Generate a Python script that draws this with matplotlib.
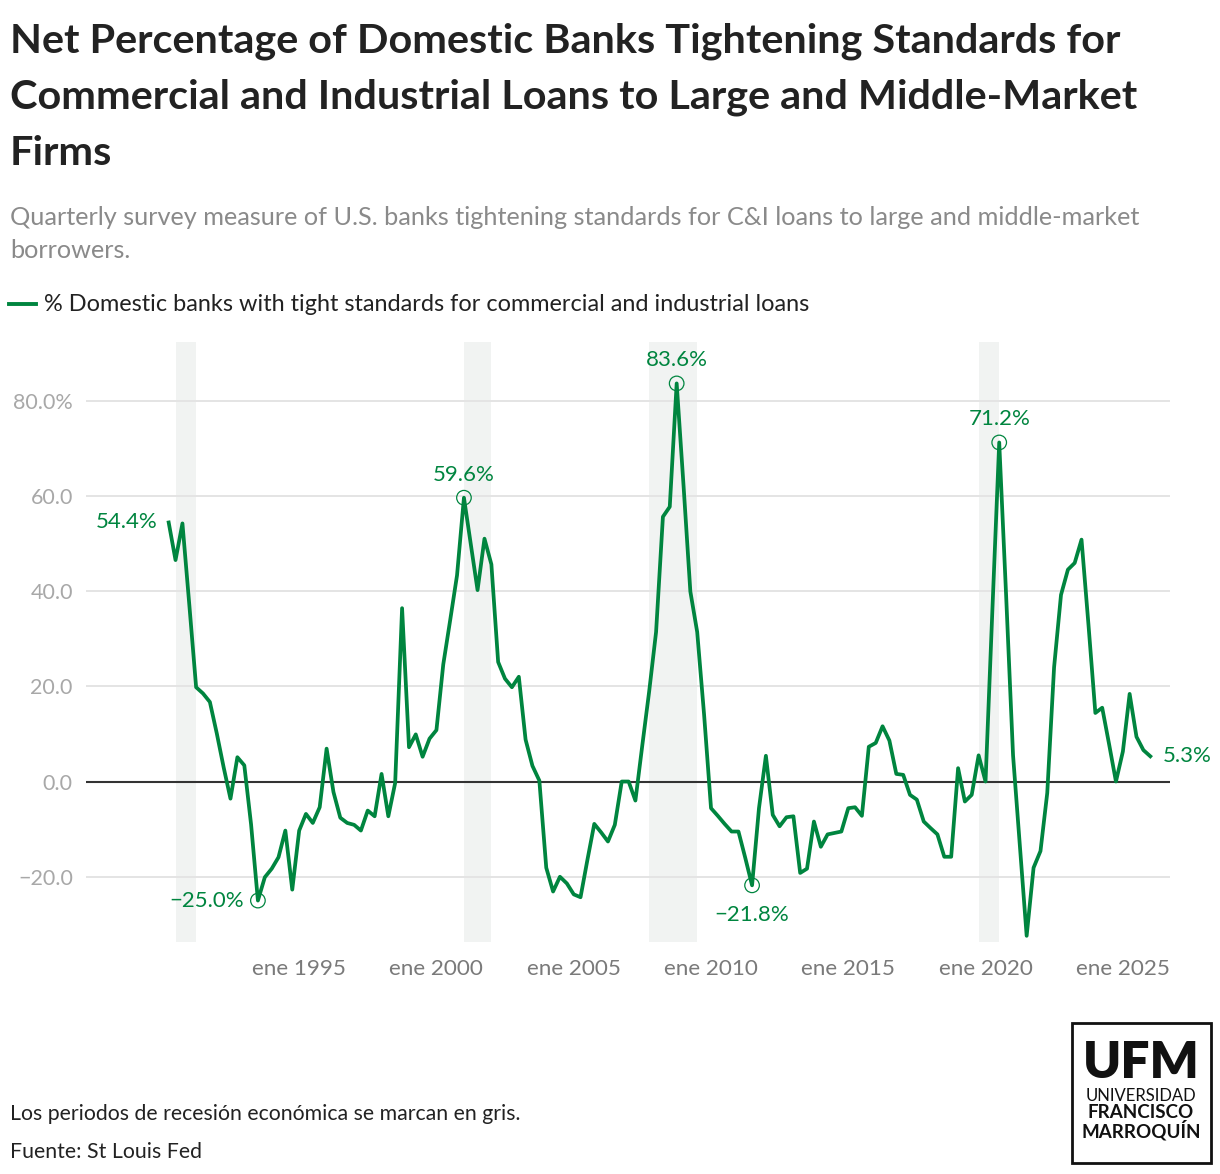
import numpy as np
import pandas as pd
import matplotlib
matplotlib.use("Agg")
import matplotlib.pyplot as plt
from matplotlib.patches import Rectangle

plt.rcParams["font.family"] = ["Lato", "DejaVu Sans"]

# quarterly survey values, 1990 Q2 onwards
start_quarter = "1990-04-01"
values = [
    54.4, 46.5, 54.2, 37.0, 19.8, 18.5, 16.7, 10.1, 3.0, -3.6,
    5.1, 3.4, -9.0, -25.0, -20.1, -18.3, -15.9, -10.3, -22.7, -10.3,
    -6.8, -8.7, -5.4, 6.9, -2.2, -7.6, -8.7, -9.1, -10.3, -6.1,
    -7.3, 1.6, -7.3, -0.3, 36.4, 7.2, 9.9, 5.2, 9.0, 10.8,
    24.6, 33.8, 43.3, 59.6, 49.9, 40.2, 51.0, 45.6, 25.1, 21.6,
    19.8, 22.0, 8.8, 3.3, 0.2, -18.1, -23.1, -20.0, -21.4, -23.7,
    -24.3, -16.5, -8.9, -10.7, -12.6, -9.1, 0.0, 0.0, -4.0, 7.5,
    18.9, 31.4, 55.6, 57.7, 83.6, 62.0, 39.9, 31.4, 14.0, -5.6,
    -7.2, -8.9, -10.5, -10.5, -16.0, -21.8, -5.6, 5.4, -7.0, -9.4,
    -7.5, -7.3, -19.2, -18.3, -8.4, -13.7, -11.1, -10.8, -10.5, -5.6,
    -5.4, -7.2, 7.3, 8.1, 11.6, 8.6, 1.6, 1.4, -2.8, -3.8,
    -8.4, -9.8, -11.1, -15.8, -15.8, 2.8, -4.2, -2.8, 5.5, 0.0,
    36.0, 71.2, 39.0, 5.5, -13.5, -32.4, -18.1, -14.6, -2.4, 24.0,
    39.2, 44.5, 45.9, 50.8, 33.0, 14.4, 15.5, 7.9, 0.0, 6.3,
    18.4, 9.4, 6.6, 5.3,
]
dates = pd.date_range(start_quarter, periods=len(values), freq="QS")

recessions = [("1990-07-01", "1991-04-01"), ("2001-01-01", "2002-01-01"),
              ("2007-10-01", "2009-07-01"), ("2019-10-01", "2020-07-01")]

# highlighted extremes (index into values)
marked = [13, 43, 74, 85, 121]

yticks = [-20, 0, 20, 40, 60, 80]
ytick_labels = ["\u221220.0", "0.0", "20.0", "40.0", "60.0", "80.0%"]
xtick_years = [1995, 2000, 2005, 2010, 2015, 2020, 2025]

GREEN = "#00853f"
DARK = "#222222"

W, H = 1220, 1174
fig = plt.figure(figsize=(W / 100, H / 100), dpi=100)


def fx(x):
    return x / W


def fy(y):
    return 1 - y / H


ax = fig.add_axes([fx(86), fy(942), (1170 - 86) / W, (942 - 342) / H])

for a, b in recessions:
    ax.axvspan(pd.Timestamp(a), pd.Timestamp(b), color="#f1f3f2", lw=0, zorder=0.1)

ax.set_axisbelow(True)
ax.yaxis.grid(True, color="#e4e4e4", lw=1.4)
ax.axhline(0, color="#333333", lw=1.5, zorder=2)

ax.plot(dates, values, color=GREEN, lw=2.7, zorder=3)

ax.scatter(dates[marked], [values[i] for i in marked], s=110, facecolors="none",
           edgecolors=GREEN, linewidths=0.9, zorder=4)


def fmt(v):
    return f"{v:.1f}%".replace("-", "\u2212")


label_style = dict(color=GREEN, fontsize=16, textcoords="offset pixels", zorder=5)
ax.annotate(fmt(values[0]), (dates[0], values[0]), xytext=(-11, 0),
            ha="right", va="center", **label_style)
ax.annotate(fmt(values[-1]), (dates[-1], values[-1]), xytext=(12, 0),
            ha="left", va="center", **label_style)
offsets = {13: (-14, 0, "right"), 43: (0, 23, "center"), 74: (0, 23, "center"),
           85: (0, -30, "center"), 121: (0, 23, "center")}
for i in marked:
    dx, dy, ha = offsets[i]
    ax.annotate(fmt(values[i]), (dates[i], values[i]), xytext=(dx, dy),
                ha=ha, va="center", **label_style)

ax.set_xlim(pd.Timestamp("1987-03-28"), pd.Timestamp("2026-09-20"))
ax.set_ylim(-33.7, 92.3)
ax.set_yticks(yticks)
ax.set_yticklabels(ytick_labels)
ax.set_xticks([pd.Timestamp(f"{y}-01-01") for y in xtick_years])
ax.set_xticklabels([f"ene {y}" for y in xtick_years])
ax.tick_params(axis="y", length=0, pad=9.5, labelsize=15.5, labelcolor="#a8a8a8")
ax.tick_params(axis="x", length=0, pad=12, labelsize=16.2, labelcolor="#7a7a7a")
for s in ax.spines.values():
    s.set_visible(False)

# header
title_lines = ["Net Percentage of Domestic Banks Tightening Standards for",
               "Commercial and Industrial Loans to Large and Middle-Market",
               "Firms"]
for k, line in enumerate(title_lines):
    fig.text(fx(10), fy(53 + 56 * k), line, fontsize=29.8, fontweight="bold",
             color=DARK, va="baseline")
subtitle_lines = ["Quarterly survey measure of U.S. banks tightening standards for C&I loans to large and middle-market",
                  "borrowers."]
for k, line in enumerate(subtitle_lines):
    fig.text(fx(10), fy(225 + 33 * k), line, fontsize=18.2, color="#8a8a8a", va="baseline")

fig.add_artist(plt.Line2D([fx(9), fx(36)], [fy(304), fy(304)], color=GREEN, lw=2.8))
fig.text(fx(44), fy(311), "% Domestic banks with tight standards for commercial and industrial loans",
         fontsize=16.9, color=DARK, va="baseline")

# footer
fig.text(fx(10), fy(1120), "Los periodos de recesión económica se marcan en gris.",
         fontsize=15.3, color=DARK, va="baseline")
fig.text(fx(10), fy(1158), "Fuente: St Louis Fed", fontsize=15.3, color=DARK, va="baseline")

# logo
fig.add_artist(Rectangle((fx(1072), fy(1163)), 139 / W, 140 / H, fill=False,
                         edgecolor="#111111", lw=2, transform=fig.transFigure))
fig.text(fx(1141), fy(1063), "UFM", fontsize=37, fontweight="heavy", color="#111111",
         ha="center", va="center")
fig.text(fx(1141), fy(1096), "UNIVERSIDAD", fontsize=12, color="#111111", ha="center", va="center")
fig.text(fx(1141), fy(1113), "FRANCISCO", fontsize=13.5, fontweight="bold", color="#111111",
         ha="center", va="center")
fig.text(fx(1141), fy(1130), "MARROQUÍN", fontsize=13.5, fontweight="bold", color="#111111",
         ha="center", va="center")

fig.savefig("out.png", dpi=100)
